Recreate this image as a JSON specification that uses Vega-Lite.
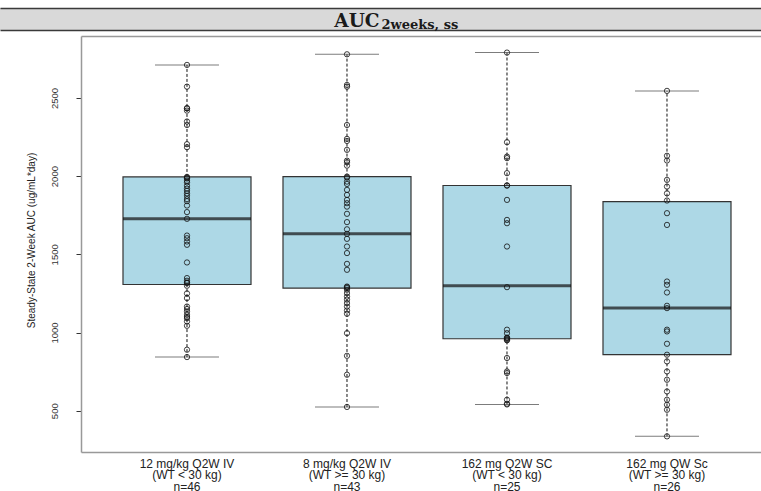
{
  "$schema": "https://vega.github.io/schema/vega-lite/v6.json",
  "padding": {"left": 0, "top": 8, "right": 0, "bottom": 0},
  "spacing": 4,
  "background": "white",
  "config": {"view": {"stroke": null}, "font": "Liberation Sans"},
  "datasets": {
    "boxes": [
      {"group": "12 mg/kg Q2W IV|(WT < 30 kg)|n=46", "lower": 843, "q1": 1307, "median": 1727, "q3": 1995, "upper": 2711},
      {"group": "8 mg/kg Q2W IV|(WT >= 30 kg)|n=43", "lower": 524, "q1": 1284, "median": 1631, "q3": 1997, "upper": 2779},
      {"group": "162 mg Q2W SC|(WT < 30 kg)|n=25", "lower": 540, "q1": 960, "median": 1299, "q3": 1940, "upper": 2790},
      {"group": "162 mg QW Sc|(WT >= 30 kg)|n=26", "lower": 336, "q1": 858, "median": 1156, "q3": 1837, "upper": 2545}
    ],
    "points": [
      {"group": "12 mg/kg Q2W IV|(WT < 30 kg)|n=46", "auc": 2711},
      {"group": "12 mg/kg Q2W IV|(WT < 30 kg)|n=46", "auc": 2572},
      {"group": "12 mg/kg Q2W IV|(WT < 30 kg)|n=46", "auc": 2434},
      {"group": "12 mg/kg Q2W IV|(WT < 30 kg)|n=46", "auc": 2434},
      {"group": "12 mg/kg Q2W IV|(WT < 30 kg)|n=46", "auc": 2419},
      {"group": "12 mg/kg Q2W IV|(WT < 30 kg)|n=46", "auc": 2349},
      {"group": "12 mg/kg Q2W IV|(WT < 30 kg)|n=46", "auc": 2327},
      {"group": "12 mg/kg Q2W IV|(WT < 30 kg)|n=46", "auc": 2204},
      {"group": "12 mg/kg Q2W IV|(WT < 30 kg)|n=46", "auc": 2185},
      {"group": "12 mg/kg Q2W IV|(WT < 30 kg)|n=46", "auc": 1995},
      {"group": "12 mg/kg Q2W IV|(WT < 30 kg)|n=46", "auc": 1990},
      {"group": "12 mg/kg Q2W IV|(WT < 30 kg)|n=46", "auc": 1985},
      {"group": "12 mg/kg Q2W IV|(WT < 30 kg)|n=46", "auc": 1970},
      {"group": "12 mg/kg Q2W IV|(WT < 30 kg)|n=46", "auc": 1960},
      {"group": "12 mg/kg Q2W IV|(WT < 30 kg)|n=46", "auc": 1938},
      {"group": "12 mg/kg Q2W IV|(WT < 30 kg)|n=46", "auc": 1920},
      {"group": "12 mg/kg Q2W IV|(WT < 30 kg)|n=46", "auc": 1906},
      {"group": "12 mg/kg Q2W IV|(WT < 30 kg)|n=46", "auc": 1890},
      {"group": "12 mg/kg Q2W IV|(WT < 30 kg)|n=46", "auc": 1874},
      {"group": "12 mg/kg Q2W IV|(WT < 30 kg)|n=46", "auc": 1853},
      {"group": "12 mg/kg Q2W IV|(WT < 30 kg)|n=46", "auc": 1840},
      {"group": "12 mg/kg Q2W IV|(WT < 30 kg)|n=46", "auc": 1812},
      {"group": "12 mg/kg Q2W IV|(WT < 30 kg)|n=46", "auc": 1770},
      {"group": "12 mg/kg Q2W IV|(WT < 30 kg)|n=46", "auc": 1727},
      {"group": "12 mg/kg Q2W IV|(WT < 30 kg)|n=46", "auc": 1620},
      {"group": "12 mg/kg Q2W IV|(WT < 30 kg)|n=46", "auc": 1603},
      {"group": "12 mg/kg Q2W IV|(WT < 30 kg)|n=46", "auc": 1582},
      {"group": "12 mg/kg Q2W IV|(WT < 30 kg)|n=46", "auc": 1561},
      {"group": "12 mg/kg Q2W IV|(WT < 30 kg)|n=46", "auc": 1448},
      {"group": "12 mg/kg Q2W IV|(WT < 30 kg)|n=46", "auc": 1348},
      {"group": "12 mg/kg Q2W IV|(WT < 30 kg)|n=46", "auc": 1331},
      {"group": "12 mg/kg Q2W IV|(WT < 30 kg)|n=46", "auc": 1320},
      {"group": "12 mg/kg Q2W IV|(WT < 30 kg)|n=46", "auc": 1316},
      {"group": "12 mg/kg Q2W IV|(WT < 30 kg)|n=46", "auc": 1299},
      {"group": "12 mg/kg Q2W IV|(WT < 30 kg)|n=46", "auc": 1250},
      {"group": "12 mg/kg Q2W IV|(WT < 30 kg)|n=46", "auc": 1220},
      {"group": "12 mg/kg Q2W IV|(WT < 30 kg)|n=46", "auc": 1166},
      {"group": "12 mg/kg Q2W IV|(WT < 30 kg)|n=46", "auc": 1150},
      {"group": "12 mg/kg Q2W IV|(WT < 30 kg)|n=46", "auc": 1133},
      {"group": "12 mg/kg Q2W IV|(WT < 30 kg)|n=46", "auc": 1113},
      {"group": "12 mg/kg Q2W IV|(WT < 30 kg)|n=46", "auc": 1100},
      {"group": "12 mg/kg Q2W IV|(WT < 30 kg)|n=46", "auc": 1092},
      {"group": "12 mg/kg Q2W IV|(WT < 30 kg)|n=46", "auc": 1071},
      {"group": "12 mg/kg Q2W IV|(WT < 30 kg)|n=46", "auc": 1043},
      {"group": "12 mg/kg Q2W IV|(WT < 30 kg)|n=46", "auc": 890},
      {"group": "12 mg/kg Q2W IV|(WT < 30 kg)|n=46", "auc": 843},
      {"group": "8 mg/kg Q2W IV|(WT >= 30 kg)|n=43", "auc": 2779},
      {"group": "8 mg/kg Q2W IV|(WT >= 30 kg)|n=43", "auc": 2583},
      {"group": "8 mg/kg Q2W IV|(WT >= 30 kg)|n=43", "auc": 2572},
      {"group": "8 mg/kg Q2W IV|(WT >= 30 kg)|n=43", "auc": 2327},
      {"group": "8 mg/kg Q2W IV|(WT >= 30 kg)|n=43", "auc": 2238},
      {"group": "8 mg/kg Q2W IV|(WT >= 30 kg)|n=43", "auc": 2225},
      {"group": "8 mg/kg Q2W IV|(WT >= 30 kg)|n=43", "auc": 2168},
      {"group": "8 mg/kg Q2W IV|(WT >= 30 kg)|n=43", "auc": 2099},
      {"group": "8 mg/kg Q2W IV|(WT >= 30 kg)|n=43", "auc": 2089},
      {"group": "8 mg/kg Q2W IV|(WT >= 30 kg)|n=43", "auc": 2067},
      {"group": "8 mg/kg Q2W IV|(WT >= 30 kg)|n=43", "auc": 1997},
      {"group": "8 mg/kg Q2W IV|(WT >= 30 kg)|n=43", "auc": 1990},
      {"group": "8 mg/kg Q2W IV|(WT >= 30 kg)|n=43", "auc": 1965},
      {"group": "8 mg/kg Q2W IV|(WT >= 30 kg)|n=43", "auc": 1950},
      {"group": "8 mg/kg Q2W IV|(WT >= 30 kg)|n=43", "auc": 1912},
      {"group": "8 mg/kg Q2W IV|(WT >= 30 kg)|n=43", "auc": 1880},
      {"group": "8 mg/kg Q2W IV|(WT >= 30 kg)|n=43", "auc": 1848},
      {"group": "8 mg/kg Q2W IV|(WT >= 30 kg)|n=43", "auc": 1827},
      {"group": "8 mg/kg Q2W IV|(WT >= 30 kg)|n=43", "auc": 1805},
      {"group": "8 mg/kg Q2W IV|(WT >= 30 kg)|n=43", "auc": 1759},
      {"group": "8 mg/kg Q2W IV|(WT >= 30 kg)|n=43", "auc": 1706},
      {"group": "8 mg/kg Q2W IV|(WT >= 30 kg)|n=43", "auc": 1660},
      {"group": "8 mg/kg Q2W IV|(WT >= 30 kg)|n=43", "auc": 1631},
      {"group": "8 mg/kg Q2W IV|(WT >= 30 kg)|n=43", "auc": 1599},
      {"group": "8 mg/kg Q2W IV|(WT >= 30 kg)|n=43", "auc": 1550},
      {"group": "8 mg/kg Q2W IV|(WT >= 30 kg)|n=43", "auc": 1508},
      {"group": "8 mg/kg Q2W IV|(WT >= 30 kg)|n=43", "auc": 1439},
      {"group": "8 mg/kg Q2W IV|(WT >= 30 kg)|n=43", "auc": 1401},
      {"group": "8 mg/kg Q2W IV|(WT >= 30 kg)|n=43", "auc": 1294},
      {"group": "8 mg/kg Q2W IV|(WT >= 30 kg)|n=43", "auc": 1290},
      {"group": "8 mg/kg Q2W IV|(WT >= 30 kg)|n=43", "auc": 1284},
      {"group": "8 mg/kg Q2W IV|(WT >= 30 kg)|n=43", "auc": 1273},
      {"group": "8 mg/kg Q2W IV|(WT >= 30 kg)|n=43", "auc": 1252},
      {"group": "8 mg/kg Q2W IV|(WT >= 30 kg)|n=43", "auc": 1230},
      {"group": "8 mg/kg Q2W IV|(WT >= 30 kg)|n=43", "auc": 1210},
      {"group": "8 mg/kg Q2W IV|(WT >= 30 kg)|n=43", "auc": 1188},
      {"group": "8 mg/kg Q2W IV|(WT >= 30 kg)|n=43", "auc": 1166},
      {"group": "8 mg/kg Q2W IV|(WT >= 30 kg)|n=43", "auc": 1141},
      {"group": "8 mg/kg Q2W IV|(WT >= 30 kg)|n=43", "auc": 1120},
      {"group": "8 mg/kg Q2W IV|(WT >= 30 kg)|n=43", "auc": 996},
      {"group": "8 mg/kg Q2W IV|(WT >= 30 kg)|n=43", "auc": 851},
      {"group": "8 mg/kg Q2W IV|(WT >= 30 kg)|n=43", "auc": 730},
      {"group": "8 mg/kg Q2W IV|(WT >= 30 kg)|n=43", "auc": 524},
      {"group": "162 mg Q2W SC|(WT < 30 kg)|n=25", "auc": 2790},
      {"group": "162 mg Q2W SC|(WT < 30 kg)|n=25", "auc": 2217},
      {"group": "162 mg Q2W SC|(WT < 30 kg)|n=25", "auc": 2125},
      {"group": "162 mg Q2W SC|(WT < 30 kg)|n=25", "auc": 2115},
      {"group": "162 mg Q2W SC|(WT < 30 kg)|n=25", "auc": 2019},
      {"group": "162 mg Q2W SC|(WT < 30 kg)|n=25", "auc": 1940},
      {"group": "162 mg Q2W SC|(WT < 30 kg)|n=25", "auc": 1940},
      {"group": "162 mg Q2W SC|(WT < 30 kg)|n=25", "auc": 1848},
      {"group": "162 mg Q2W SC|(WT < 30 kg)|n=25", "auc": 1720},
      {"group": "162 mg Q2W SC|(WT < 30 kg)|n=25", "auc": 1699},
      {"group": "162 mg Q2W SC|(WT < 30 kg)|n=25", "auc": 1550},
      {"group": "162 mg Q2W SC|(WT < 30 kg)|n=25", "auc": 1290},
      {"group": "162 mg Q2W SC|(WT < 30 kg)|n=25", "auc": 1018},
      {"group": "162 mg Q2W SC|(WT < 30 kg)|n=25", "auc": 996},
      {"group": "162 mg Q2W SC|(WT < 30 kg)|n=25", "auc": 968},
      {"group": "162 mg Q2W SC|(WT < 30 kg)|n=25", "auc": 965},
      {"group": "162 mg Q2W SC|(WT < 30 kg)|n=25", "auc": 960},
      {"group": "162 mg Q2W SC|(WT < 30 kg)|n=25", "auc": 954},
      {"group": "162 mg Q2W SC|(WT < 30 kg)|n=25", "auc": 950},
      {"group": "162 mg Q2W SC|(WT < 30 kg)|n=25", "auc": 837},
      {"group": "162 mg Q2W SC|(WT < 30 kg)|n=25", "auc": 751},
      {"group": "162 mg Q2W SC|(WT < 30 kg)|n=25", "auc": 741},
      {"group": "162 mg Q2W SC|(WT < 30 kg)|n=25", "auc": 570},
      {"group": "162 mg Q2W SC|(WT < 30 kg)|n=25", "auc": 545},
      {"group": "162 mg Q2W SC|(WT < 30 kg)|n=25", "auc": 540},
      {"group": "162 mg QW Sc|(WT >= 30 kg)|n=26", "auc": 2545},
      {"group": "162 mg QW Sc|(WT >= 30 kg)|n=26", "auc": 2130},
      {"group": "162 mg QW Sc|(WT >= 30 kg)|n=26", "auc": 2100},
      {"group": "162 mg QW Sc|(WT >= 30 kg)|n=26", "auc": 1976},
      {"group": "162 mg QW Sc|(WT >= 30 kg)|n=26", "auc": 1933},
      {"group": "162 mg QW Sc|(WT >= 30 kg)|n=26", "auc": 1890},
      {"group": "162 mg QW Sc|(WT >= 30 kg)|n=26", "auc": 1844},
      {"group": "162 mg QW Sc|(WT >= 30 kg)|n=26", "auc": 1763},
      {"group": "162 mg QW Sc|(WT >= 30 kg)|n=26", "auc": 1688},
      {"group": "162 mg QW Sc|(WT >= 30 kg)|n=26", "auc": 1326},
      {"group": "162 mg QW Sc|(WT >= 30 kg)|n=26", "auc": 1305},
      {"group": "162 mg QW Sc|(WT >= 30 kg)|n=26", "auc": 1256},
      {"group": "162 mg QW Sc|(WT >= 30 kg)|n=26", "auc": 1171},
      {"group": "162 mg QW Sc|(WT >= 30 kg)|n=26", "auc": 1156},
      {"group": "162 mg QW Sc|(WT >= 30 kg)|n=26", "auc": 1018},
      {"group": "162 mg QW Sc|(WT >= 30 kg)|n=26", "auc": 1007},
      {"group": "162 mg QW Sc|(WT >= 30 kg)|n=26", "auc": 928},
      {"group": "162 mg QW Sc|(WT >= 30 kg)|n=26", "auc": 858},
      {"group": "162 mg QW Sc|(WT >= 30 kg)|n=26", "auc": 815},
      {"group": "162 mg QW Sc|(WT >= 30 kg)|n=26", "auc": 751},
      {"group": "162 mg QW Sc|(WT >= 30 kg)|n=26", "auc": 698},
      {"group": "162 mg QW Sc|(WT >= 30 kg)|n=26", "auc": 623},
      {"group": "162 mg QW Sc|(WT >= 30 kg)|n=26", "auc": 570},
      {"group": "162 mg QW Sc|(WT >= 30 kg)|n=26", "auc": 538},
      {"group": "162 mg QW Sc|(WT >= 30 kg)|n=26", "auc": 506},
      {"group": "162 mg QW Sc|(WT >= 30 kg)|n=26", "auc": 336}
    ]
  },
  "vconcat": [
    {
      "width": 761,
      "height": 22,
      "view": {"fill": "#d9d9d9", "stroke": null},
      "data": {"values": [{"pos": 0.5, "main": "AUC", "sub": "2weeks, ss"}]},
      "layer": [
        {
          "mark": {"type": "text", "font": "DejaVu Serif", "fontWeight": "bold", "fontSize": 18.5, "align": "right", "baseline": "alphabetic", "dx": -1, "dy": 7.5, "color": "#1a1a1a"},
          "encoding": {
            "x": {"field": "pos", "type": "quantitative", "scale": {"domain": [0, 1]},
                  "axis": {"orient": "top", "title": null, "labels": false, "ticks": false, "grid": false, "domainColor": "#3a3a3a", "domainWidth": 1.5}},
            "y": {"field": "pos", "type": "quantitative", "scale": {"domain": [0, 1]}, "axis": null},
            "text": {"field": "main"}
          }
        },
        {
          "mark": {"type": "text", "font": "DejaVu Serif", "fontWeight": "bold", "fontSize": 13, "align": "left", "baseline": "alphabetic", "dx": 1, "dy": 10, "color": "#1a1a1a"},
          "encoding": {
            "x": {"field": "pos", "type": "quantitative", "scale": {"domain": [0, 1]},
                  "axis": {"orient": "bottom", "title": null, "labels": false, "ticks": false, "grid": false, "domainColor": "#3a3a3a", "domainWidth": 1.5}},
            "y": {"field": "pos", "type": "quantitative", "scale": {"domain": [0, 1]}, "axis": null},
            "text": {"field": "sub"}
          }
        }
      ],
      "resolve": {"axis": {"x": "independent"}}
    },
    {
      "spacing": 0,
      "hconcat": [
        {
          "width": 26,
          "height": 400,
          "data": {"values": []},
          "mark": "point"
        },
        {
          "width": 684,
          "height": 416,
          "layer": [
            {
              "data": {"name": "boxes"},
              "mark": {"type": "rule", "color": "#111", "strokeWidth": 1, "strokeDash": [3, 2]},
              "encoding": {
                "x": {"field": "group", "type": "nominal", "axis": null,
                      "scale": {"type": "band", "domain": ["12 mg/kg Q2W IV|(WT < 30 kg)|n=46", "8 mg/kg Q2W IV|(WT >= 30 kg)|n=43", "162 mg Q2W SC|(WT < 30 kg)|n=25", "162 mg QW Sc|(WT >= 30 kg)|n=26"], "paddingInner": 0.2, "paddingOuter": 0.2375, "align": 0.5526}},
                "y": {"field": "q3", "type": "quantitative", "axis": null},
                "y2": {"field": "upper"}
              }
            },
            {
              "data": {"name": "boxes"},
              "mark": {"type": "rule", "color": "#111", "strokeWidth": 1, "strokeDash": [3, 2]},
              "encoding": {
                "x": {"field": "group", "type": "nominal", "axis": null},
                "y": {"field": "lower", "type": "quantitative", "axis": null},
                "y2": {"field": "q1"}
              }
            },
            {
              "data": {"name": "boxes"},
              "mark": {"type": "bar", "fill": "#add8e6", "stroke": "#333333", "strokeWidth": 1.2},
              "encoding": {
                "x": {"field": "group", "type": "nominal",
                      "axis": {"orient": "bottom", "title": null, "labelExpr": "split(datum.label, '|')", "labelAngle": 0, "labelAlign": "center", "labelBaseline": "top", "labelFontSize": 12, "labelLineHeight": 11.8, "labelColor": "#222", "labelPadding": 6, "ticks": false, "tickSize": 0, "domainColor": "#999", "domainWidth": 1.5}},
                "y": {"field": "q1", "type": "quantitative",
                      "scale": {"domain": [236, 2896], "nice": false, "zero": false},
                      "axis": {"orient": "left", "values": [500, 1000, 1500, 2000, 2500], "format": "d", "grid": false,
                               "labelAngle": -90, "labelAlign": "center", "labelBaseline": "middle", "labelPadding": 22, "labelFontSize": 9.5, "labelColor": "#333",
                               "tickSize": 5, "tickColor": "#333", "domainColor": "#999", "domainWidth": 1.5,
                               "title": "Steady-State 2-Week AUC (ug/mL*day)", "titleFontSize": 10, "titleFontWeight": "normal", "titleColor": "#222",
                               "titleAngle": -90, "titleAlign": "center", "titleBaseline": "middle", "titleX": -50, "titleY": 204}},
                "y2": {"field": "q3"}
              }
            },
            {
              "data": {"name": "boxes"},
              "mark": {"type": "tick", "color": "#111", "thickness": 3, "size": 128},
              "encoding": {
                "x": {"field": "group", "type": "nominal", "axis": null},
                "y": {"field": "median", "type": "quantitative", "axis": null}
              }
            },
            {
              "data": {"name": "boxes"},
              "mark": {"type": "tick", "color": "#444", "thickness": 1, "size": 64},
              "encoding": {
                "x": {"field": "group", "type": "nominal",
                      "axis": {"orient": "top", "title": null, "labels": false, "ticks": false, "grid": false, "domainColor": "#999", "domainWidth": 1.5}},
                "y": {"field": "upper", "type": "quantitative", "axis": null}
              }
            },
            {
              "data": {"name": "boxes"},
              "mark": {"type": "tick", "color": "#444", "thickness": 1, "size": 64},
              "encoding": {
                "x": {"field": "group", "type": "nominal", "axis": null},
                "y": {"field": "lower", "type": "quantitative", "axis": null}
              }
            },
            {
              "data": {"name": "points"},
              "mark": {"type": "point", "shape": "circle", "filled": false, "size": 28, "stroke": "#111", "strokeWidth": 0.8, "opacity": 1},
              "encoding": {
                "x": {"field": "group", "type": "nominal", "axis": null},
                "y": {"field": "auc", "type": "quantitative", "axis": null}
              }
            }
          ],
          "resolve": {"axis": {"x": "independent", "y": "independent"}}
        }
      ]
    }
  ]
}
